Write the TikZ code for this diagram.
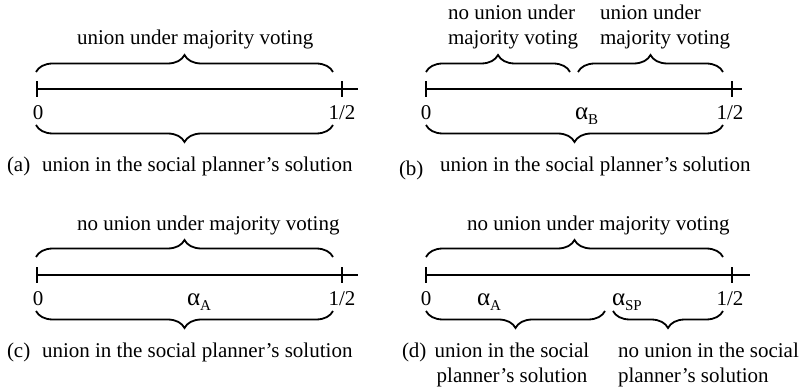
\documentclass[tikz,border=0pt]{standalone}
\usepackage{fontspec}
\setmainfont{Liberation Serif}
\usetikzlibrary{decorations.pathreplacing}
\newcommand{\alf}[1]{{\fontsize{25}{25}\selectfont α}\raisebox{-5pt}{\fontsize{15}{15}\selectfont #1}}
\tikzset{
  axisline/.style={line width=1.9pt},
  tickline/.style={line width=1.9pt},
  bracetop/.style={decorate,decoration={brace,amplitude=17pt},line width=1.8pt},
  bracebot/.style={decorate,decoration={brace,mirror,amplitude=17pt},line width=1.8pt},
  txt/.style={font=\fontsize{21}{25}\selectfont,inner sep=0pt,outer sep=0pt},
}
\begin{document}
\begin{tikzpicture}[x=1pt,y=1pt]
\useasboundingbox (0,0) rectangle (803,391);
% ---------- panel (a)
\coordinate (a0) at (37,302); \coordinate (ah) at (342,302); \coordinate (ae) at (358,302);
\draw[axisline] (a0) -- (ae);
\draw[tickline] ([yshift=-8pt]a0) -- ([yshift=8pt]a0);
\draw[tickline] ([yshift=-8pt]ah) -- ([yshift=8pt]ah);
\coordinate (atl) at (36,319); \coordinate (atr) at (333,319);
\draw[bracetop] (atl) -- (atr);
\coordinate (abl) at (36,266); \coordinate (abr) at (333,266);
\draw[bracebot] (abl) -- (abr);
\node[txt,anchor=base west] (atop) at (77,346) {union under majority voting};
\node[txt,anchor=base] (azero) at (38,271) {0};
\node[txt,anchor=base] (ahalf) at (342,271) {1/2};
\node[txt,anchor=base west] (alab) at (7,219) {(a)};
\node[txt,anchor=base west] (acap) at (42,219) {union in the social planner’s solution};
% ---------- panel (b)
\coordinate (b0) at (426,302); \coordinate (bh) at (732,302); \coordinate (be) at (742,302);
\draw[axisline] (b0) -- (be);
\draw[tickline] ([yshift=-8pt]b0) -- ([yshift=8pt]b0);
\draw[tickline] ([yshift=-8pt]bh) -- ([yshift=8pt]bh);
\coordinate (btl1) at (426,319); \coordinate (btr1) at (570,319);
\coordinate (btl2) at (578,319); \coordinate (btr2) at (723,319);
\draw[bracetop] (btl1) -- (btr1);
\draw[bracetop] (btl2) -- (btr2);
\coordinate (bbl) at (426,266); \coordinate (bbr) at (723,266);
\draw[bracebot] (bbl) -- (bbr);
\node[txt,anchor=base west,align=left] (btop1) at (448,346) {no union under\\majority voting};
\node[txt,anchor=base west,align=left] (btop2) at (600,346) {union under\\majority voting};
\node[txt,anchor=base] (bzero) at (426,271) {0};
\node[txt,anchor=base west] (balpha) at (575,271) {\alf{B}};
\node[txt,anchor=base] (bhalf) at (730,271) {1/2};
\node[txt,anchor=base west] (blab) at (399,215) {(b)};
\node[txt,anchor=base west] (bcap) at (440,219) {union in the social planner’s solution};
% ---------- panel (c)
\coordinate (c0) at (37,116); \coordinate (ch) at (342,116); \coordinate (ce) at (358,116);
\draw[axisline] (c0) -- (ce);
\draw[tickline] ([yshift=-8pt]c0) -- ([yshift=8pt]c0);
\draw[tickline] ([yshift=-8pt]ch) -- ([yshift=8pt]ch);
\coordinate (ctl) at (36,134); \coordinate (ctr) at (333,134);
\draw[bracetop] (ctl) -- (ctr);
\coordinate (cbl) at (36,80); \coordinate (cbr) at (333,80);
\draw[bracebot] (cbl) -- (cbr);
\node[txt,anchor=base west] (ctop) at (77,160) {no union under majority voting};
\node[txt,anchor=base] (czero) at (38,85) {0};
\node[txt,anchor=base west] (calpha) at (187,85) {\alf{A}};
\node[txt,anchor=base] (chalf) at (342,85) {1/2};
\node[txt,anchor=base west] (clab) at (7,34) {(c)};
\node[txt,anchor=base west] (ccap) at (42,34) {union in the social planner’s solution};
% ---------- panel (d)
\coordinate (d0) at (426,116); \coordinate (dh) at (732,116); \coordinate (de) at (750,116);
\draw[axisline] (d0) -- (de);
\draw[tickline] ([yshift=-8pt]d0) -- ([yshift=8pt]d0);
\draw[tickline] ([yshift=-8pt]dh) -- ([yshift=8pt]dh);
\coordinate (dtl) at (426,134); \coordinate (dtr) at (723,134);
\draw[bracetop] (dtl) -- (dtr);
\coordinate (dbl1) at (426,80); \coordinate (dbr1) at (605,80);
\coordinate (dbl2) at (613,80); \coordinate (dbr2) at (723,80);
\draw[bracebot] (dbl1) -- (dbr1);
\draw[bracebot] (dbl2) -- (dbr2);
\node[txt,anchor=base west] (dtop) at (467,160) {no union under majority voting};
\node[txt,anchor=base] (dzero) at (426,85) {0};
\node[txt,anchor=base west] (dalpha1) at (477,85) {\alf{A}};
\node[txt,anchor=base west] (dalpha2) at (612,85) {\alf{SP}};
\node[txt,anchor=base] (dhalf) at (730,85) {1/2};
\node[txt,anchor=base west] (dlab) at (402,34) {(d)};
\node[txt,anchor=base,align=center] (dcap1) at (512,9) {union in the social\\planner’s solution};
\node[txt,anchor=base west,align=left] (dcap2) at (618,9) {no union in the social\\planner’s solution};
\end{tikzpicture}
\end{document}
